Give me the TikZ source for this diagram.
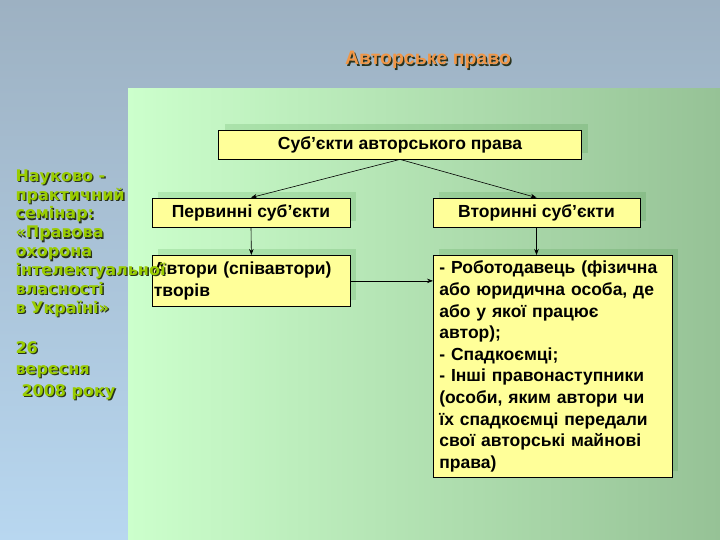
\documentclass[tikz,border=0pt]{standalone}
\usepackage{fontspec}
\setmainfont{Liberation Sans}
\newfontfamily\sideFont{DejaVu Sans}
\usetikzlibrary{arrows.meta, shadows, positioning}
\definecolor{skyTop}{RGB}{157,177,194}
\definecolor{skyLow}{RGB}{184,215,240}
\definecolor{panelLight}{RGB}{204,255,204}
\definecolor{panelDark}{RGB}{150,194,150}
\definecolor{boxFill}{RGB}{255,255,153}
\definecolor{titleOrange}{RGB}{240,150,70}
\definecolor{sideGreen}{RGB}{153,204,0}
\definecolor{textShade}{RGB}{40,50,30}
\begin{document}
\begin{tikzpicture}[
    x=1pt, y=-1pt,
    % Yellow block with a flat gray shadow up and to the right
    block/.style={
        rectangle, draw=black, line width=0.8pt, fill=boxFill,
        general shadow={shadow xshift=6pt, shadow yshift=6pt,
                        fill=black!60!green, fill opacity=0.12},
        font=\fontsize{17.5}{21.6}\selectfont\bfseries,
        inner sep=4pt
    },
    arr/.style={-{Stealth[length=6pt, width=4.5pt]}, line width=0.6pt},
    titleTxt/.style={font=\fontsize{19.5}{21}\selectfont\bfseries},
    sideTxt/.style={anchor=north west, align=left,
                    font=\sideFont\fontsize{16}{18.9}\selectfont\bfseries}
]
\useasboundingbox (0,0) rectangle (720,540);
% ── BACKGROUND ────────────────────────────────────────────────
\shade[top color=skyTop, bottom color=skyLow] (0,0) rectangle (720,540);
\shade[left color=panelLight, right color=panelDark] (128,89) rectangle (720,540);
% ── TITLE ─────────────────────────────────────────────────────
\node[titleTxt, text=textShade] (titleShade) at (429.5,61.5) {Авторське право};
\node[titleTxt, text=titleOrange] (title) at (428,60) {Авторське право};
% ── BLOCKS ────────────────────────────────────────────────────
\node[block, minimum width=363, minimum height=29] (subj) at (400,144.5)
    {Суб’єкти авторського права};
\node[block, minimum width=198, minimum height=29] (prim) at (251,212.5)
    {Первинні суб’єкти};
\node[block, minimum width=207, minimum height=29] (sec)  at (536.5,212.5)
    {Вторинні суб’єкти};
\node[block, anchor=north west, text width=195, inner xsep=1.5pt,
      minimum height=51, align=left] (auth) at (152,255)
    {Автори (співавтори)\\творів};
\node[block, anchor=north west, text width=227, inner xsep=6pt,
      minimum height=222, align=left] (heirs) at (433,255)
    {- Роботодавець (фізична\\або юридична особа, де\\або у якої працює\\автор);\\
     - Спадкоємці;\\- Інші правонаступники\\(особи, яким автори чи\\їх спадкоємці передали\\
     свої авторські майнові\\права)};
% ── ARROWS ────────────────────────────────────────────────────
\draw[arr] (subj.south) -- (prim.north);
\draw[arr] (subj.south) -- (sec.north);
\draw[arr] (prim.south) -- (auth.north);
\draw[arr] (sec.south)  -- (sec.south |- heirs.north);
\draw[arr] (auth.east)  -- (auth.east -| heirs.west);
% ── SIDE TEXT (drawn last, it runs over the block) ────────────
\node[sideTxt, text=textShade] (seminarShade) at (13.3,167.3)
    {Науково -\\практичний\\семінар:\\«Правова\\охорона\\інтелектуальної\\власності\\в Україні»\\[21pt]
     26\\[2pt]вересня\\[3pt]\hspace*{6pt}2008 року};
\node[sideTxt, text=sideGreen] (seminar) at (12,166)
    {Науково -\\практичний\\семінар:\\«Правова\\охорона\\інтелектуальної\\власності\\в Україні»\\[21pt]
     26\\[2pt]вересня\\[3pt]\hspace*{6pt}2008 року};
\end{tikzpicture}
\end{document}
